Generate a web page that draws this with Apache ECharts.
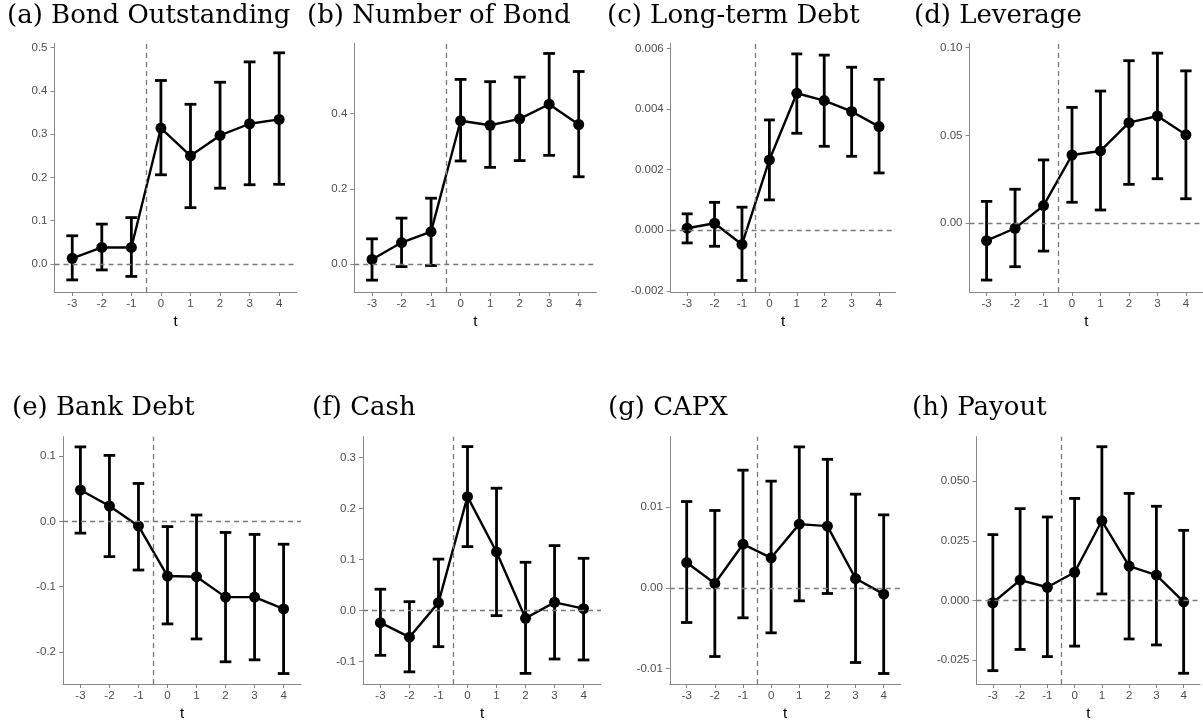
<!DOCTYPE html>
<html>
<head>
<meta charset="utf-8">
<script src="https://cdn.jsdelivr.net/npm/echarts@6/dist/echarts.min.js"></script>
<style>
html, body { margin: 0; padding: 0; background: #fff; }
#main { width: 1203px; height: 725px; }
</style>
</head>
<body>
<div id="main"></div>
<script>
// event time
var t = [-3, -2, -1, 0, 1, 2, 3, 4];

var titles = ['(a) Bond Outstanding', '(b) Number of Bond', '(c) Long-term Debt', '(d) Leverage',
              '(e) Bank Debt', '(f) Cash', '(g) CAPX', '(h) Payout'];

// (a) Bond Outstanding
var bondEst = [0.013, 0.038, 0.038, 0.314, 0.250, 0.297, 0.324, 0.334];
var bondLo  = [-0.037, -0.014, -0.029, 0.206, 0.130, 0.175, 0.183, 0.184];
var bondHi  = [0.065, 0.092, 0.107, 0.424, 0.369, 0.420, 0.467, 0.488];
var bondTicks = [0, 0.1, 0.2, 0.3, 0.4, 0.5];

// (b) Number of Bond
var numEst = [0.012, 0.057, 0.086, 0.381, 0.369, 0.386, 0.425, 0.371];
var numLo  = [-0.043, -0.007, -0.004, 0.274, 0.257, 0.275, 0.289, 0.232];
var numHi  = [0.067, 0.122, 0.175, 0.491, 0.485, 0.497, 0.560, 0.512];
var numTicks = [0, 0.2, 0.4];

// (c) Long-term Debt
var ltdEst = [0.000066, 0.00023, -0.00047, 0.00232, 0.00452, 0.00428, 0.00392, 0.00342];
var ltdLo  = [-0.00042, -0.00053, -0.00166, 0.00100, 0.00320, 0.00277, 0.00244, 0.00189];
var ltdHi  = [0.00054, 0.00092, 0.00076, 0.00364, 0.00582, 0.00578, 0.00538, 0.00498];
var ltdTicks = [-0.002, 0, 0.002, 0.004, 0.006];

// (d) Leverage
var levEst = [-0.0099, -0.0028, 0.0101, 0.0389, 0.0412, 0.0573, 0.0611, 0.0504];
var levLo  = [-0.0323, -0.0247, -0.0158, 0.0120, 0.0076, 0.0222, 0.0254, 0.0140];
var levHi  = [0.0125, 0.0194, 0.0361, 0.0660, 0.0753, 0.0926, 0.0969, 0.0868];
var levTicks = [0, 0.05, 0.10];

// (e) Bank Debt
var bankEst = [0.048, 0.0235, -0.007, -0.0837, -0.0847, -0.116, -0.116, -0.134];
var bankLo  = [-0.018, -0.054, -0.0745, -0.157, -0.180, -0.215, -0.212, -0.233];
var bankHi  = [0.114, 0.101, 0.058, -0.008, 0.0097, -0.017, -0.020, -0.035];
var bankTicks = [-0.2, -0.1, 0, 0.1];

// (f) Cash
var cashEst = [-0.0235, -0.052, 0.0157, 0.2235, 0.115, -0.015, 0.0163, 0.0039];
var cashLo  = [-0.0876, -0.120, -0.0706, 0.1255, -0.0098, -0.123, -0.0948, -0.0967];
var cashHi  = [0.042, 0.0176, 0.101, 0.3216, 0.240, 0.0948, 0.1275, 0.1026];
var cashTicks = [-0.1, 0, 0.1, 0.2, 0.3];

// (g) CAPX
var capxEst = [0.00313, 0.00054, 0.0054, 0.00371, 0.00788, 0.00763, 0.00115, -0.00078];
var capxLo  = [-0.00429, -0.0085, -0.00371, -0.00557, -0.00161, -0.0007, -0.00924, -0.0106];
var capxHi  = [0.01068, 0.00957, 0.01456, 0.0132, 0.01744, 0.0159, 0.01159, 0.00903];
var capxTicks = [-0.01, 0, 0.01];

// (h) Payout
var payEst = [-0.001, 0.0085, 0.0055, 0.0118, 0.0334, 0.0144, 0.0106, -0.0006];
var payLo  = [-0.0295, -0.0206, -0.0236, -0.0192, 0.0027, -0.0162, -0.0187, -0.0306];
var payHi  = [0.0276, 0.0385, 0.035, 0.0428, 0.0645, 0.0449, 0.0395, 0.0294];
var payTicks = [-0.025, 0, 0.025, 0.050];

var panels = [
    { est: bondEst, lo: bondLo, hi: bondHi, ticks: bondTicks, dec: 1, ymin: -0.065, ymax: 0.51, left: 54.5, width: 242.4, row: 0, tl: 7 },
    { est: numEst, lo: numLo, hi: numHi, ticks: numTicks, dec: 1, ymin: -0.0745, ymax: 0.587, left: 354.3, width: 242.1, row: 0, tl: 307 },
    { est: ltdEst, lo: ltdLo, hi: ltdHi, ticks: ltdTicks, dec: 3, ymin: -0.00204, ymax: 0.00617, left: 670.7, width: 224.8, row: 0, tl: 607 },
    { est: levEst, lo: levLo, hi: levHi, ticks: levTicks, dec: 2, ymin: -0.0391, ymax: 0.1025, left: 969.5, width: 235, row: 0, tl: 914 },
    { est: bankEst, lo: bankLo, hi: bankHi, ticks: bankTicks, dec: 1, ymin: -0.249, ymax: 0.1296, left: 63, width: 238, row: 1, tl: 12 },
    { est: cashEst, lo: cashLo, hi: cashHi, ticks: cashTicks, dec: 1, ymin: -0.1438, ymax: 0.341, left: 363, width: 238, row: 1, tl: 312 },
    { est: capxEst, lo: capxLo, hi: capxHi, ticks: capxTicks, dec: 2, ymin: -0.0119, ymax: 0.0187, left: 669.8, width: 230.8, row: 1, tl: 608 },
    { est: payEst, lo: payLo, hi: payHi, ticks: payTicks, dec: 3, ymin: -0.0351, ymax: 0.0687, left: 976.5, width: 223.5, row: 1, tl: 912 }
];

var rowTop = [43.3, 436.7];
var rowHeight = [248.7, 247.3];
var titleTop = [3, 395];

var myChart = echarts.init(document.getElementById('main'));

var axisColor = '#888888';
var labelFont = 'Liberation Sans, Arial, sans-serif';

// error bar with caps
function renderBar(params, api) {
    var x = api.value(0);
    var lo = api.coord([x, api.value(1)]);
    var hi = api.coord([x, api.value(2)]);
    var half = api.size([0.2, 0])[0];
    var st = { stroke: '#000', lineWidth: 2.8 };
    return {
        type: 'group',
        children: [
            { type: 'line', shape: { x1: hi[0], y1: hi[1], x2: lo[0], y2: lo[1] }, style: st },
            { type: 'line', shape: { x1: hi[0] - half, y1: hi[1], x2: hi[0] + half, y2: hi[1] }, style: st },
            { type: 'line', shape: { x1: lo[0] - half, y1: lo[1], x2: lo[0] + half, y2: lo[1] }, style: st }
        ]
    };
}

var option = {
    animation: false,
    backgroundColor: '#fff',
    title: [],
    grid: [],
    xAxis: [],
    yAxis: [],
    series: []
};

panels.forEach(function (p, i) {
    option.title.push({
        text: titles[i],
        left: p.tl,
        top: titleTop[p.row],
        padding: 0,
        textStyle: { fontFamily: 'DejaVu Serif', fontWeight: 'normal', fontSize: 26, color: '#000' }
    });
    option.grid.push({
        left: p.left,
        top: rowTop[p.row],
        width: p.width,
        height: rowHeight[p.row],
        containLabel: false
    });
    option.xAxis.push({
        type: 'value',
        gridIndex: i,
        min: -3.6,
        max: 4.6,
        name: 't',
        nameLocation: 'middle',
        nameGap: 22,
        nameTextStyle: { fontFamily: labelFont, fontSize: 15, color: '#000' },
        axisLine: { show: true, onZero: false, lineStyle: { color: axisColor, width: 1 } },
        axisTick: { show: true, length: 4, customValues: t, lineStyle: { color: axisColor } },
        axisLabel: { customValues: t, fontFamily: labelFont, fontSize: 11.5, color: '#4d4d4d', margin: 6 },
        splitLine: { show: false }
    });
    option.yAxis.push({
        type: 'value',
        gridIndex: i,
        min: p.ymin,
        max: p.ymax,
        axisLine: { show: true, onZero: false, lineStyle: { color: axisColor, width: 1 } },
        axisTick: { show: true, length: 4, customValues: p.ticks, lineStyle: { color: axisColor } },
        axisLabel: {
            customValues: p.ticks,
            fontFamily: labelFont,
            fontSize: 11.5,
            color: '#4d4d4d',
            margin: 7,
            formatter: (function (d) { return function (v) { return (+v).toFixed(d); }; })(p.dec)
        },
        splitLine: { show: false }
    });

    var barData = t.map(function (x, k) { return [x, p.lo[k], p.hi[k]]; });
    var ptData = t.map(function (x, k) { return [x, p.est[k]]; });

    option.series.push({
        type: 'custom',
        xAxisIndex: i,
        yAxisIndex: i,
        z: 2,
        renderItem: renderBar,
        encode: { x: 0, y: [1, 2] },
        data: barData,
        markLine: {
            silent: true,
            symbol: 'none',
            label: { show: false },
            lineStyle: { color: '#7a7a7a', type: [5, 4], width: 1.3 },
            data: [{ yAxis: 0 }, { xAxis: -0.5 }]
        }
    });
    option.series.push({
        type: 'line',
        xAxisIndex: i,
        yAxisIndex: i,
        z: 3,
        data: ptData,
        symbol: 'circle',
        symbolSize: 11,
        itemStyle: { color: '#000' },
        lineStyle: { color: '#000', width: 2.4 }
    });
});

myChart.setOption(option);
</script>
</body>
</html>
